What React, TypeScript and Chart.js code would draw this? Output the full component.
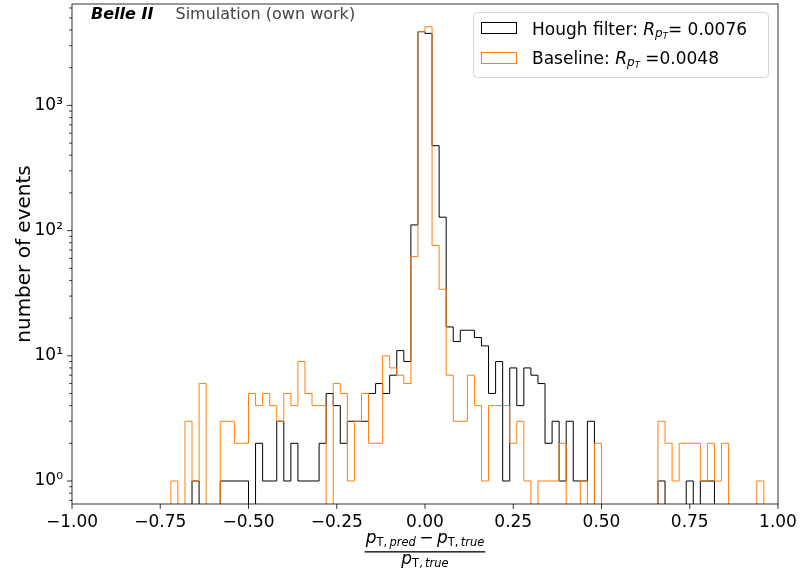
import React, { useEffect, useRef } from 'react';
import { Chart, registerables } from 'chart.js';

Chart.register(...registerables);

// ---- Histogram definition (100 bins of width 0.02 from -1 to 1) ----
const BIN_START = -1;
const BIN_WIDTH = 0.02;

// Hough filter counts per bin
const houghCounts = [
  0, 0, 0, 0, 0, 0, 0, 0, 0, 0,
  0, 0, 0, 0, 0, 0, 0, 1, 0, 0,
  0, 1, 1, 1, 1, 0, 2, 1, 1, 3,
  1, 2, 1, 1, 1, 2, 5, 4, 2, 3,
  3, 3, 5, 6, 5, 7, 11, 9, 111, 3880,
  3760, 477, 128, 17, 13, 16, 16, 14, 12, 5,
  9, 1, 8, 4, 8, 7, 6, 2, 3, 1,
  3, 1, 1, 3, 0, 0, 0, 0, 0, 0,
  0, 0, 0, 1, 0, 0, 0, 1, 0, 1,
  1, 0, 0, 0, 0, 0, 0, 0, 0, 0,
];

// Baseline counts per bin
const baselineCounts = [
  0, 0, 0, 0, 0, 0, 0, 0, 0, 0,
  0, 0, 0, 0, 1, 0, 3, 1, 6, 0,
  0, 3, 3, 2, 2, 5, 4, 5, 4, 3,
  5, 4, 9, 5, 4, 4, 0, 6, 5, 1,
  3, 5, 2, 2, 10, 8, 7, 6, 62, 3880,
  4250, 76, 34, 7, 3, 3, 7, 4, 1, 4,
  4, 4, 2, 3, 1, 0, 1, 1, 1, 2,
  0, 0, 1, 0, 2, 0, 0, 0, 0, 0,
  0, 0, 0, 3, 2, 1, 2, 2, 2, 1,
  2, 1, 2, 0, 0, 0, 0, 1, 0, 0,
];

const xTickValues = [-1, -0.75, -0.5, -0.25, 0, 0.25, 0.5, 0.75, 1];
const yMajorTicks = [1, 10, 100, 1000];
const yMinorTicks = [
  0.7, 0.8, 0.9,
  2, 3, 4, 5, 6, 7, 8, 9,
  20, 30, 40, 50, 60, 70, 80, 90,
  200, 300, 400, 500, 600, 700, 800, 900,
  2000, 3000, 4000, 5000, 6000,
];
const yTickLabels: Record<number, string> = { 1: '10⁰', 10: '10¹', 100: '10²', 1000: '10³' };

const X_MIN = -1;
const X_MAX = 1;
const Y_MIN = 0.655;
const Y_MAX = 6457;

const houghLabel = 'Hough filter';
const houghR = '0.0076';
const baselineLabel = 'Baseline';
const baselineR = '0.0048';

const HOUGH_COLOR = '#000000';
const BASELINE_COLOR = '#ff7f0e';
const FONT = '"DejaVu Sans", sans-serif';
const EMPTY = 1e-3; // empty bins sit below the axis floor, as in a log-scaled step histogram

function stepPoints(counts: number[]) {
  const pts = counts.map((c, k) => ({ x: BIN_START + k * BIN_WIDTH, y: c > 0 ? c : EMPTY }));
  pts.push({ x: BIN_START + counts.length * BIN_WIDTH, y: EMPTY });
  return pts;
}

type Run = { t: string; size: number; style?: string; weight?: string; dy?: number; color?: string };

function fontOf(r: Run) {
  return `${r.style || 'normal'} ${r.weight || 'normal'} ${r.size}px ${FONT}`;
}

function runsWidth(ctx: CanvasRenderingContext2D, runs: Run[]) {
  let w = 0;
  for (const r of runs) {
    ctx.font = fontOf(r);
    w += ctx.measureText(r.t).width;
  }
  return w;
}

function drawRuns(ctx: CanvasRenderingContext2D, runs: Run[], x: number, y: number) {
  let cx = x;
  ctx.textBaseline = 'alphabetic';
  ctx.textAlign = 'left';
  for (const r of runs) {
    ctx.font = fontOf(r);
    ctx.fillStyle = r.color || '#000';
    ctx.fillText(r.t, cx, y + (r.dy || 0));
    cx += ctx.measureText(r.t).width;
  }
  return cx;
}

const decorPlugin = {
  id: 'decor',
  afterDraw(chart: any) {
    const { ctx, chartArea: a, scales } = chart;
    const xs = scales.x;
    const ys = scales.y;
    ctx.save();

    // frame
    ctx.strokeStyle = '#000';
    ctx.lineWidth = 0.8;
    ctx.strokeRect(a.left, a.top, a.right - a.left, a.bottom - a.top);

    // tick marks
    ctx.beginPath();
    for (const v of xTickValues) {
      const px = xs.getPixelForValue(v);
      ctx.moveTo(px, a.bottom);
      ctx.lineTo(px, a.bottom + 4.9);
    }
    for (const v of yMajorTicks) {
      const py = ys.getPixelForValue(v);
      ctx.moveTo(a.left - 4.9, py);
      ctx.lineTo(a.left, py);
    }
    for (const v of yMinorTicks) {
      const py = ys.getPixelForValue(v);
      if (py < a.top || py > a.bottom) continue;
      ctx.moveTo(a.left - 2.8, py);
      ctx.lineTo(a.left, py);
    }
    ctx.stroke();

    // y axis title
    ctx.save();
    ctx.translate(29.5, (a.top + a.bottom) / 2);
    ctx.rotate(-Math.PI / 2);
    ctx.font = `20px ${FONT}`;
    ctx.fillStyle = '#000';
    ctx.textAlign = 'center';
    ctx.textBaseline = 'alphabetic';
    ctx.fillText('number of events', 0, 0);
    ctx.restore();

    // x axis title: fraction
    const cx = (a.left + a.right) / 2;
    const num: Run[] = [
      { t: 'p', size: 17, style: 'italic' },
      { t: 'T,\u2009', size: 11.5, dy: 3.4 },
      { t: 'pred', size: 11.5, style: 'italic', dy: 3.4 },
      { t: '\u2009−\u2009', size: 17 },
      { t: 'p', size: 17, style: 'italic' },
      { t: 'T,\u2009', size: 11.5, dy: 3.4 },
      { t: 'true', size: 11.5, style: 'italic', dy: 3.4 },
    ];
    const den: Run[] = [
      { t: 'p', size: 17, style: 'italic' },
      { t: 'T,\u2009', size: 11.5, dy: 3.4 },
      { t: 'true', size: 11.5, style: 'italic', dy: 3.4 },
    ];
    const nw = runsWidth(ctx, num);
    const dw = runsWidth(ctx, den);
    drawRuns(ctx, num, cx - nw / 2, 543);
    drawRuns(ctx, den, cx - dw / 2, 564);
    ctx.fillStyle = '#000';
    ctx.fillRect(cx - nw / 2 - 1, 551.2, nw + 2, 1.3);

    // top-left label
    drawRuns(ctx, [{ t: 'Belle II', size: 16, style: 'italic', weight: 'bold' }], 91, 18.5);
    drawRuns(ctx, [{ t: 'Simulation (own work)', size: 16, color: '#444' }], 175.5, 18.5);

    // legend
    const lx = 473.5, ly = 12.5, lw = 295, lh = 65, rr = 4;
    ctx.beginPath();
    ctx.moveTo(lx + rr, ly);
    ctx.lineTo(lx + lw - rr, ly);
    ctx.quadraticCurveTo(lx + lw, ly, lx + lw, ly + rr);
    ctx.lineTo(lx + lw, ly + lh - rr);
    ctx.quadraticCurveTo(lx + lw, ly + lh, lx + lw - rr, ly + lh);
    ctx.lineTo(lx + rr, ly + lh);
    ctx.quadraticCurveTo(lx, ly + lh, lx, ly + lh - rr);
    ctx.lineTo(lx, ly + rr);
    ctx.quadraticCurveTo(lx, ly, lx + rr, ly);
    ctx.closePath();
    ctx.fillStyle = 'rgba(255,255,255,0.8)';
    ctx.fill();
    ctx.strokeStyle = '#d6d6d6';
    ctx.lineWidth = 1;
    ctx.stroke();

    ctx.lineWidth = 1;
    ctx.strokeStyle = HOUGH_COLOR;
    ctx.strokeRect(481.5, 22.5, 35, 11);
    ctx.strokeStyle = BASELINE_COLOR;
    ctx.strokeRect(481.5, 52.5, 35, 11);

    drawRuns(ctx, [
      { t: houghLabel + ': ', size: 17 },
      { t: 'R', size: 17, style: 'italic' },
      { t: 'p', size: 12, style: 'italic', dy: 2.5 },
      { t: 'T', size: 8.5, style: 'italic', dy: 4.5 },
      { t: '= ' + houghR, size: 17 },
    ], 532, 34.5);
    drawRuns(ctx, [
      { t: baselineLabel + ': ', size: 17 },
      { t: 'R', size: 17, style: 'italic' },
      { t: 'p', size: 12, style: 'italic', dy: 2.5 },
      { t: 'T', size: 8.5, style: 'italic', dy: 4.5 },
      { t: ' =' + baselineR, size: 17 },
    ], 532, 63.5);

    ctx.restore();
  },
};

function zeroPad(s: any) {
  s.paddingTop = 0;
  s.paddingBottom = 0;
  s.paddingLeft = 0;
  s.paddingRight = 0;
}

export default function App() {
  const canvasRef = useRef<HTMLCanvasElement | null>(null);

  useEffect(() => {
    const canvas = canvasRef.current;
    if (!canvas) return;
    const chart = new Chart(canvas, {
      type: 'line',
      data: {
        datasets: [
          {
            label: houghLabel,
            data: stepPoints(houghCounts),
            borderColor: HOUGH_COLOR,
            borderWidth: 1,
            pointRadius: 0,
            stepped: true,
            fill: false,
            order: 1,
          },
          {
            label: baselineLabel,
            data: stepPoints(baselineCounts),
            borderColor: BASELINE_COLOR,
            borderWidth: 1,
            pointRadius: 0,
            stepped: true,
            fill: false,
            order: 0,
          },
        ],
      },
      options: {
        responsive: false,
        animation: false,
        events: [],
        layout: { padding: { top: 4, right: 22, left: 0, bottom: 0 } },
        plugins: {
          legend: { display: false },
          tooltip: { enabled: false },
          title: { display: false },
        },
        scales: {
          x: {
            type: 'linear',
            min: X_MIN,
            max: X_MAX,
            afterFit: (s: any) => { s.height = 68; zeroPad(s); },
            afterBuildTicks: (s: any) => { s.ticks = xTickValues.map((v) => ({ value: v })); },
            grid: { display: false, drawTicks: false },
            border: { display: false },
            ticks: {
              padding: 8,
              autoSkip: false,
              maxRotation: 0,
              color: '#000',
              font: { family: FONT, size: 17 },
              callback: (v: any) => Number(v).toFixed(2).replace('-', '−'),
            },
          },
          y: {
            type: 'logarithmic',
            min: Y_MIN,
            max: Y_MAX,
            afterFit: (s: any) => { s.width = 72; zeroPad(s); },
            afterBuildTicks: (s: any) => { s.ticks = yMajorTicks.map((v) => ({ value: v })); },
            grid: { display: false, drawTicks: false },
            border: { display: false },
            ticks: {
              padding: 9,
              autoSkip: false,
              color: '#000',
              font: { family: FONT, size: 17 },
              callback: (v: any) => yTickLabels[Number(v)] ?? '',
            },
          },
        },
      },
      plugins: [decorPlugin],
    });
    return () => chart.destroy();
  }, []);

  return (
    <div style={{ position: 'absolute', left: 0, top: 0, width: 800, height: 572, background: '#fff' }}>
      <canvas ref={canvasRef} width={800} height={572} style={{ width: 800, height: 572, display: 'block' }} />
    </div>
  );
}
